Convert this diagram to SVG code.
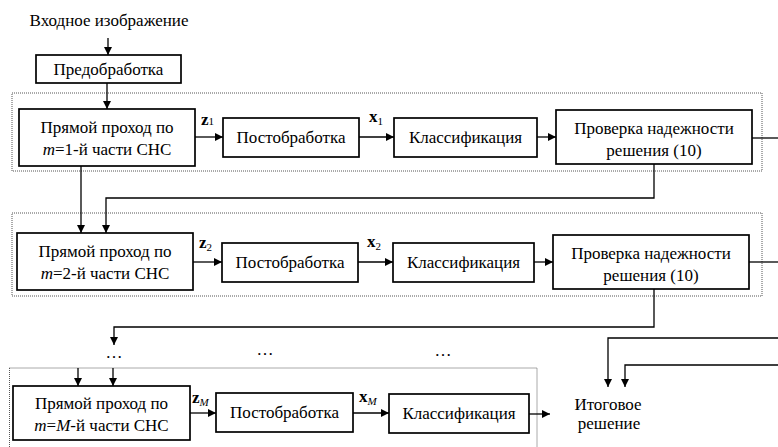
<svg xmlns="http://www.w3.org/2000/svg" width="778" height="447" viewBox="0 0 778 447" font-family="Liberation Serif, Times New Roman, serif" font-size="17">
<defs>
<marker id="ah" viewBox="0 0 10 10" refX="10" refY="5" markerWidth="8" markerHeight="8" markerUnits="userSpaceOnUse" orient="auto">
<path d="M0,0 L10,5 L0,10 Z" fill="#000"/>
</marker>
<style>
.c{text-anchor:middle}
.box{fill:#fff;stroke:#000;stroke-width:1.7}
.grp{fill:none;stroke:#555;stroke-width:1;stroke-dasharray:1 1}
.ln{fill:none;stroke:#000;stroke-width:1.3}
.ar{fill:none;stroke:#000;stroke-width:1.3;marker-end:url(#ah)}
.b{font-weight:bold}
.i{font-style:italic}
.sub{font-size:11px}
</style>
</defs>
<rect width="778" height="447" fill="#fff"/>
<g id="groups">
<rect class="grp" x="12" y="93" width="750" height="78"/>
<rect class="grp" x="12" y="213" width="750" height="83"/>
<rect class="grp" x="9.5" y="368" width="527.5" height="100"/>
</g>
<g id="connectors">
<path class="ar" d="M108,38 V55"/>
<path class="ar" d="M107,83 V109"/>
<path class="ar" d="M195,137 H223"/>
<path class="ar" d="M359,137 H394"/>
<path class="ar" d="M537,137 H556"/>
<path class="ln" d="M752,138 H778"/>
<path class="ar" d="M81,166 V233"/>
<path class="ar" d="M654,164 V198 H106 V233"/>
<path class="ar" d="M193,262 H222"/>
<path class="ar" d="M358,262 H393"/>
<path class="ar" d="M534,262 H553"/>
<path class="ln" d="M749,262 H778"/>
<path class="ar" d="M654,289 V327 H114 V345"/>
<path class="ar" d="M78,368 V386"/>
<path class="ar" d="M113,368 V386"/>
<path class="ar" d="M190,413 H216"/>
<path class="ar" d="M353,413 H389"/>
<path class="ar" d="M529,414 H550"/>
<path class="ar" d="M778,338 H608 V387"/>
<path class="ar" d="M778,365 H625 V387"/>
</g>
<g id="labels">
<text x="201" y="125"><tspan class="b">z</tspan><tspan class="sub">1</tspan></text>
<text x="369" y="122"><tspan class="b">x</tspan><tspan class="sub" dy="3">1</tspan></text>
<text x="199" y="248"><tspan class="b">z</tspan><tspan class="sub" dy="3">2</tspan></text>
<text x="367" y="247"><tspan class="b">x</tspan><tspan class="sub" dy="3">2</tspan></text>
<text x="192" y="403"><tspan class="b">z</tspan><tspan class="sub i" dy="3">M</tspan></text>
<text x="359" y="402"><tspan class="b">x</tspan><tspan class="sub i" dy="3">M</tspan></text>
<text class="c" x="114" y="358">…</text>
<text class="c" x="265" y="355">…</text>
<text class="c" x="443" y="356">…</text>
</g>
<g id="input"><text class="c" x="109" y="26">Входное изображение</text></g>
<g id="pre"><rect class="box" x="36" y="55" width="145" height="28"/><text class="c" x="108.5" y="75">Предобработка</text></g>
<g id="fwd1"><rect class="box" x="19" y="109" width="176" height="57"/><text class="c" x="107" y="133">Прямой проход по</text><text class="c" x="107" y="155"><tspan class="i">m</tspan>=1-й части СНС</text></g>
<g id="post1"><rect class="box" x="223" y="118" width="136" height="39"/><text class="c" x="291" y="143">Постобработка</text></g>
<g id="cls1"><rect class="box" x="394" y="118" width="143" height="39"/><text class="c" x="465.5" y="143">Классификация</text></g>
<g id="chk1"><rect class="box" x="556" y="110" width="196" height="54"/><text class="c" x="654" y="134">Проверка надежности</text><text class="c" x="654" y="156">решения (10)</text></g>
<g id="fwd2"><rect class="box" x="17" y="233" width="176" height="57"/><text class="c" x="105" y="257">Прямой проход по</text><text class="c" x="105" y="279"><tspan class="i">m</tspan>=2-й части СНС</text></g>
<g id="post2"><rect class="box" x="222" y="243" width="136" height="39"/><text class="c" x="290" y="268">Постобработка</text></g>
<g id="cls2"><rect class="box" x="393" y="243" width="141" height="39"/><text class="c" x="463.5" y="268">Классификация</text></g>
<g id="chk2"><rect class="box" x="553" y="235" width="196" height="54"/><text class="c" x="651" y="259">Проверка надежности</text><text class="c" x="651" y="281">решения (10)</text></g>
<g id="fwdM"><rect class="box" x="13" y="386" width="177" height="54"/><text class="c" x="101.5" y="409">Прямой проход по</text><text class="c" x="101.5" y="431"><tspan class="i">m</tspan>=<tspan class="i">M</tspan>-й части СНС</text></g>
<g id="postM"><rect class="box" x="216" y="393" width="137" height="39"/><text class="c" x="284.5" y="418">Постобработка</text></g>
<g id="clsM"><rect class="box" x="389" y="394" width="140" height="39"/><text class="c" x="459" y="419">Классификация</text></g>
<g id="final"><text class="c" x="608" y="410">Итоговое</text><text class="c" x="609" y="429">решение</text></g>
</svg>
